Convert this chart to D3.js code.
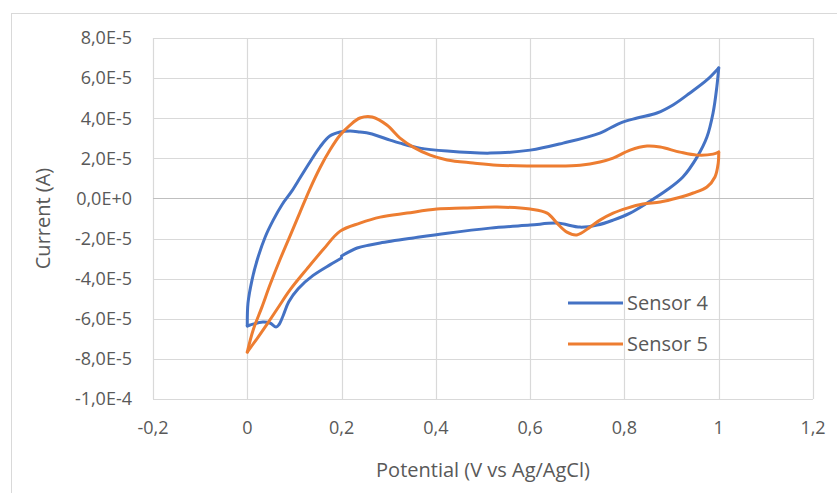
<!DOCTYPE html>
<html>
<head>
<meta charset="utf-8">
<script src="https://cdn.jsdelivr.net/npm/d3@7"></script>
<style>
  body { margin: 0; background: #fff; }
  svg { display: block; font-family: "Open Sans", sans-serif; }
</style>
</head>
<body>
<div id="chart"></div>
<script>
// x in V, y in units of 1E-5 A
const xTicks = [-0.2, 0, 0.2, 0.4, 0.6, 0.8, 1, 1.2];
const yTicks = [-10, -8, -6, -4, -2, 0, 2, 4, 6, 8];
const yTickLabels = ['-1,0E-4', '-8,0E-5', '-6,0E-5', '-4,0E-5', '-2,0E-5', '0,0E+0', '2,0E-5', '4,0E-5', '6,0E-5', '8,0E-5'];

// Sensor 4: reverse scan 0.2 -> 0, forward 0 -> 1, reverse 1 -> 0.2
const s4Start = [[0.2, -2.97], [0.176, -3.3], [0.139, -3.85], [0.108, -4.5], [0.088, -5.15], [0.076, -5.85],
  [0.067, -6.3], [0.061, -6.41], [0.048, -6.21], [0.033, -6.16], [0.006, -6.31], [0, -6.36]];
const s4Forward = [[0, -6.36], [0.0015, -5.22], [0.010, -4.07], [0.021, -3.07], [0.038, -1.92], [0.055, -1.08],
  [0.074, -0.3], [0.094, 0.35], [0.113, 1.07], [0.133, 1.82], [0.154, 2.56], [0.175, 3.11], [0.197, 3.31],
  [0.218, 3.36], [0.239, 3.31], [0.260, 3.24], [0.303, 2.91], [0.324, 2.76], [0.366, 2.51], [0.424, 2.36],
  [0.515, 2.26], [0.600, 2.41], [0.670, 2.76], [0.748, 3.26], [0.791, 3.76], [0.827, 4.01], [0.869, 4.26],
  [0.903, 4.66], [0.939, 5.26], [0.975, 5.91], [1.0, 6.51]];
const s4Reverse = [[1.0, 6.51], [0.996, 5.56], [0.988, 4.26], [0.975, 3.06], [0.954, 2.06], [0.924, 1.07],
  [0.890, 0.42], [0.848, -0.23], [0.812, -0.73], [0.776, -1.08], [0.742, -1.33], [0.706, -1.43], [0.657, -1.23],
  [0.600, -1.33], [0.515, -1.48], [0.424, -1.73], [0.352, -1.97], [0.282, -2.22], [0.260, -2.32], [0.233, -2.47],
  [0.2, -2.87]];

// Sensor 5: forward 0 -> 1, reverse 1 -> 0
const s5Forward = [[0, -7.66], [0.0125, -6.56], [0.031, -5.42], [0.048, -4.32], [0.069, -3.07], [0.091, -1.85],
  [0.112, -0.68], [0.133, 0.48], [0.154, 1.52], [0.175, 2.4], [0.197, 3.16], [0.218, 3.66], [0.239, 4.01],
  [0.265, 4.06], [0.296, 3.66], [0.324, 3.01], [0.352, 2.56], [0.388, 2.16], [0.424, 1.92], [0.479, 1.77],
  [0.530, 1.66], [0.600, 1.62], [0.649, 1.62], [0.706, 1.66], [0.748, 1.82], [0.776, 2.01], [0.812, 2.41],
  [0.848, 2.61], [0.876, 2.56], [0.918, 2.31], [0.954, 2.16], [0.988, 2.21], [1.0, 2.31]];
const s5Reverse = [[1.0, 2.31], [0.999, 1.77], [0.992, 1.07], [0.975, 0.57], [0.946, 0.27], [0.912, 0.02],
  [0.876, -0.18], [0.839, -0.28], [0.806, -0.48], [0.776, -0.73], [0.748, -1.08], [0.727, -1.43], [0.699, -1.82],
  [0.678, -1.68], [0.657, -1.23], [0.636, -0.73], [0.600, -0.53], [0.530, -0.43], [0.458, -0.48], [0.402, -0.53],
  [0.339, -0.73], [0.282, -0.93], [0.239, -1.23], [0.197, -1.63], [0.161, -2.55], [0.127, -3.5], [0.091, -4.55],
  [0.068, -5.35], [0.046, -6.13], [0.023, -6.91], [0, -7.66]];

const series = [
  { name: 'Sensor 4', color: '#4472C4', parts: [s4Start, s4Forward, s4Reverse] },
  { name: 'Sensor 5', color: '#ED7D31', parts: [s5Forward, s5Reverse] }
];

const width = 837, height = 493;
const plotLeft = 153, plotRight = 813, plotTop = 38, plotBottom = 399;
const textColor = '#595959';
const gridColor = '#d9d9d9';

const svg = d3.select('#chart').append('svg').attr('width', width).attr('height', height);

// chart frame
svg.append('rect')
  .attr('x', 11.5).attr('y', 13.5)
  .attr('width', 840).attr('height', 500)
  .attr('fill', 'none').attr('stroke', gridColor);

const x = d3.scaleLinear().domain([-0.2, 1.2]).range([plotLeft, plotRight]);
const y = d3.scaleLinear().domain([-10, 8]).range([plotBottom, plotTop]);

// gridlines
svg.append('g').selectAll('line')
  .data(xTicks)
  .enter().append('line')
  .attr('x1', d => Math.round(x(d)) + 0.5).attr('x2', d => Math.round(x(d)) + 0.5)
  .attr('y1', plotTop).attr('y2', plotBottom)
  .attr('stroke', gridColor).attr('stroke-width', 1.2);

svg.append('g').selectAll('line')
  .data(yTicks)
  .enter().append('line')
  .attr('x1', plotLeft).attr('x2', plotRight)
  .attr('y1', d => Math.round(y(d)) + 0.5).attr('y2', d => Math.round(y(d)) + 0.5)
  .attr('stroke', d => d === 0 ? '#bfbfbf' : gridColor).attr('stroke-width', 1.2);

// tick labels
svg.append('g').selectAll('text')
  .data(yTicks)
  .enter().append('text')
  .attr('x', plotLeft - 21)
  .attr('y', d => y(d))
  .attr('dy', '0.35em')
  .attr('text-anchor', 'end')
  .attr('fill', textColor)
  .attr('font-size', '18px')
  .text((d, i) => yTickLabels[i]);

svg.append('g').selectAll('text')
  .data(xTicks)
  .enter().append('text')
  .attr('x', d => x(d))
  .attr('y', plotBottom + 29)
  .attr('dy', '0.35em')
  .attr('text-anchor', 'middle')
  .attr('fill', textColor)
  .attr('font-size', '18px')
  .text(d => String(d).replace('.', ','));

// axis titles
svg.append('text')
  .attr('x', (plotLeft + plotRight) / 2)
  .attr('y', 470)
  .attr('dy', '0.35em')
  .attr('text-anchor', 'middle')
  .attr('fill', textColor)
  .attr('font-size', '20px')
  .text('Potential (V vs Ag/AgCl)');

svg.append('text')
  .attr('transform', `translate(43,${(plotTop + plotBottom) / 2}) rotate(-90)`)
  .attr('dy', '0.35em')
  .attr('text-anchor', 'middle')
  .attr('fill', textColor)
  .attr('font-size', '20px')
  .text('Current (A)');

// curves
const line = d3.line()
  .x(d => x(d[0]))
  .y(d => y(d[1]))
  .curve(d3.curveCatmullRom.alpha(0.5));

series.forEach(s => {
  svg.append('g').selectAll('path')
    .data(s.parts)
    .enter().append('path')
    .attr('d', line)
    .attr('fill', 'none')
    .attr('stroke', s.color)
    .attr('stroke-width', 3)
    .attr('stroke-linejoin', 'round')
    .attr('stroke-linecap', 'round');
});

// legend
const legend = svg.append('g').selectAll('g')
  .data(series)
  .enter().append('g')
  .attr('transform', (d, i) => `translate(568,${303 + i * 41})`);

legend.append('line')
  .attr('x1', 0).attr('x2', 55)
  .attr('stroke', d => d.color)
  .attr('stroke-width', 3);

legend.append('text')
  .attr('x', 59)
  .attr('dy', '0.35em')
  .attr('fill', textColor)
  .attr('font-size', '20px')
  .text(d => d.name);
</script>
</body>
</html>
